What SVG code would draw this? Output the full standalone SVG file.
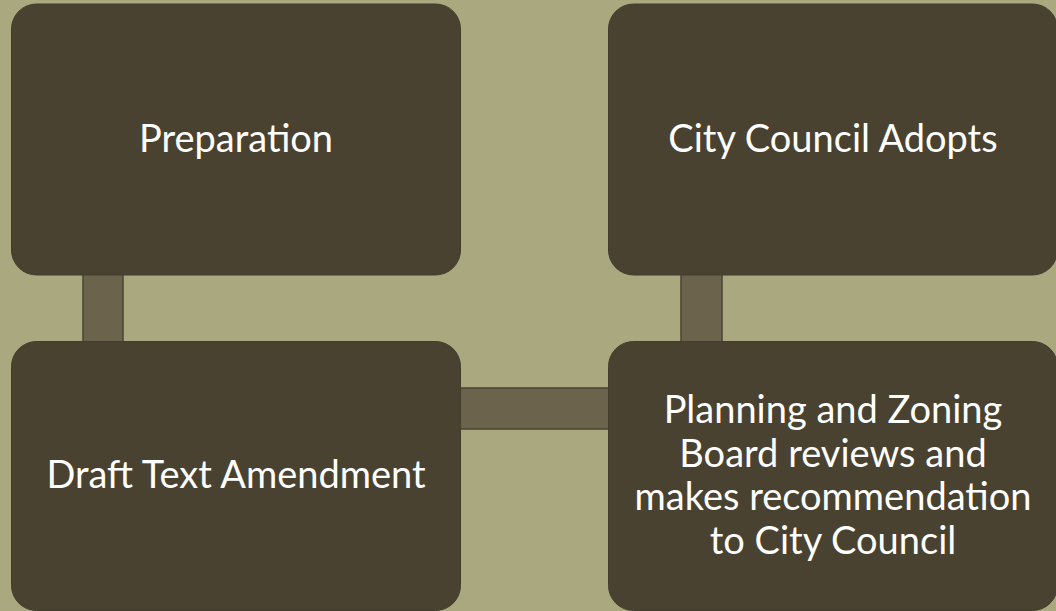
<svg xmlns="http://www.w3.org/2000/svg" width="1056" height="611" viewBox="0 0 1056 611">
<style>
.box{fill:#494231;stroke:#433d2e;stroke-width:1}
.conn{fill:#6b634c;stroke:#4a4433;stroke-width:1.5}
.t{font-family:Lato,"Open Sans",sans-serif;font-size:38px;fill:#ffffff;text-anchor:middle}
</style>
<rect width="1056" height="611" fill="#aaa87f"/>
<g id="connectors">
<rect class="conn" x="83" y="272" width="40" height="72"/>
<rect class="conn" x="681" y="272" width="41" height="72"/>
<rect class="conn" x="458" y="388" width="154" height="41"/>
</g>
<g id="node-preparation">
<rect class="box" x="11.5" y="4" width="449" height="271" rx="25"/>
<text class="t" x="236" y="152">Preparation</text>
</g>
<g id="node-city-council-adopts">
<rect class="box" x="608.5" y="4" width="449" height="271" rx="25"/>
<text class="t" x="833" y="152">City Council Adopts</text>
</g>
<g id="node-draft-text-amendment">
<rect class="box" x="11.5" y="341.5" width="449" height="269" rx="25"/>
<text class="t" x="236" y="488">Draft Text Amendment</text>
</g>
<g id="node-planning-zoning">
<rect class="box" x="608.5" y="341.5" width="449" height="269" rx="25"/>
<text class="t" x="833" y="423">Planning and Zoning</text>
<text class="t" x="833" y="467">Board reviews and</text>
<text class="t" x="833" y="510">makes recommendation</text>
<text class="t" x="833" y="554">to City Council</text>
</g>
</svg>
